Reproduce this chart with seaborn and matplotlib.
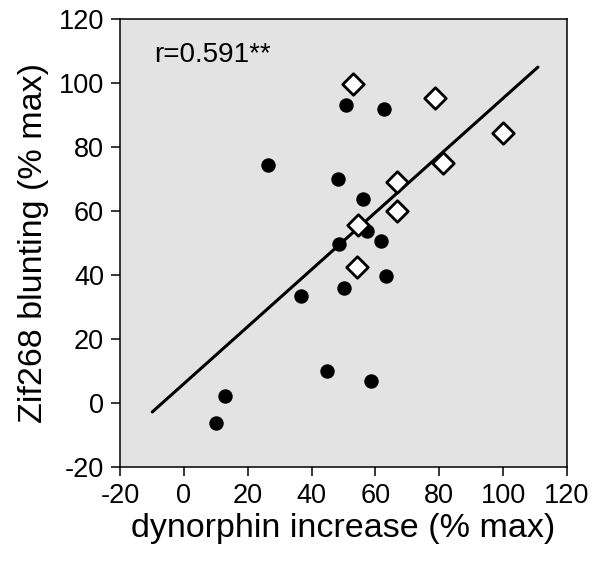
import matplotlib
matplotlib.use("Agg")
import matplotlib.pyplot as plt
import seaborn as sns
import pandas as pd

# Data
circle_x = [50.8, 62.8, 26.3, 48.3, 56.1, 57.4, 61.6, 48.6, 63.3, 50.1, 36.8, 44.8, 58.6, 12.8, 10.2]
circle_y = [93.0, 91.9, 74.3, 69.9, 63.9, 53.8, 50.8, 49.6, 39.7, 35.9, 33.4, 10.0, 6.8, 2.1, -6.1]
diamond_x = [53.0, 78.6, 100.0, 81.1, 66.8, 66.6, 54.6, 54.3]
diamond_y = [99.6, 95.3, 84.4, 75.1, 69.1, 60.0, 55.5, 42.5]
fit_x = [-9.9, 110.9]
fit_y = [-2.8, 105.0]
ticks = [-20, 0, 20, 40, 60, 80, 100, 120]
annotation = "r=0.591**"
xlabel = "dynorphin increase (% max)"
ylabel = "Zif268 blunting (% max)"

sns.set_theme(style="white")
plt.rcParams['font.family'] = ['Liberation Sans', 'DejaVu Sans']
plt.rcParams['axes.unicode_minus'] = False

circ = pd.DataFrame({"x": circle_x, "y": circle_y})
diam = pd.DataFrame({"x": diamond_x, "y": diamond_y})
fit = pd.DataFrame({"x": fit_x, "y": fit_y})

fig = plt.figure(figsize=(6.0, 5.62), dpi=100)
ax = fig.add_axes([0.2, 0.169, 0.745, 0.797])
ax.set_facecolor("#e3e3e3")

sns.lineplot(data=fit, x="x", y="y", ax=ax, color="black", linewidth=2.2, zorder=2)
sns.scatterplot(data=circ, x="x", y="y", ax=ax, marker="o", s=108, color="black",
                edgecolor="black", linewidth=0, zorder=3)
sns.scatterplot(data=diam, x="x", y="y", ax=ax, marker="D", s=120, color="white",
                edgecolor="black", linewidth=2.0, zorder=4)

ax.set_xlim(-20, 120)
ax.set_ylim(-20, 120)
ax.set_xticks(ticks)
ax.set_yticks(ticks)
ax.tick_params(axis="both", which="both", direction="out", length=6.5, width=1.1,
               labelsize=19.5, color="black", labelcolor="black",
               bottom=True, left=True, top=False, right=False)
ax.tick_params(axis="x", pad=5)
ax.tick_params(axis="y", pad=5)
for sp in ax.spines.values():
    sp.set_color("black")
    sp.set_linewidth(1.1)
    sp.set_visible(True)

ax.set_xlabel(xlabel, fontsize=24.5, color="black", labelpad=3)
ax.set_ylabel(ylabel, fontsize=24.5, color="black", labelpad=7)
ax.text(-9.3, 108.7, annotation, fontsize=20, color="black", ha="left", va="center")

fig.savefig("out.png", dpi=100)
